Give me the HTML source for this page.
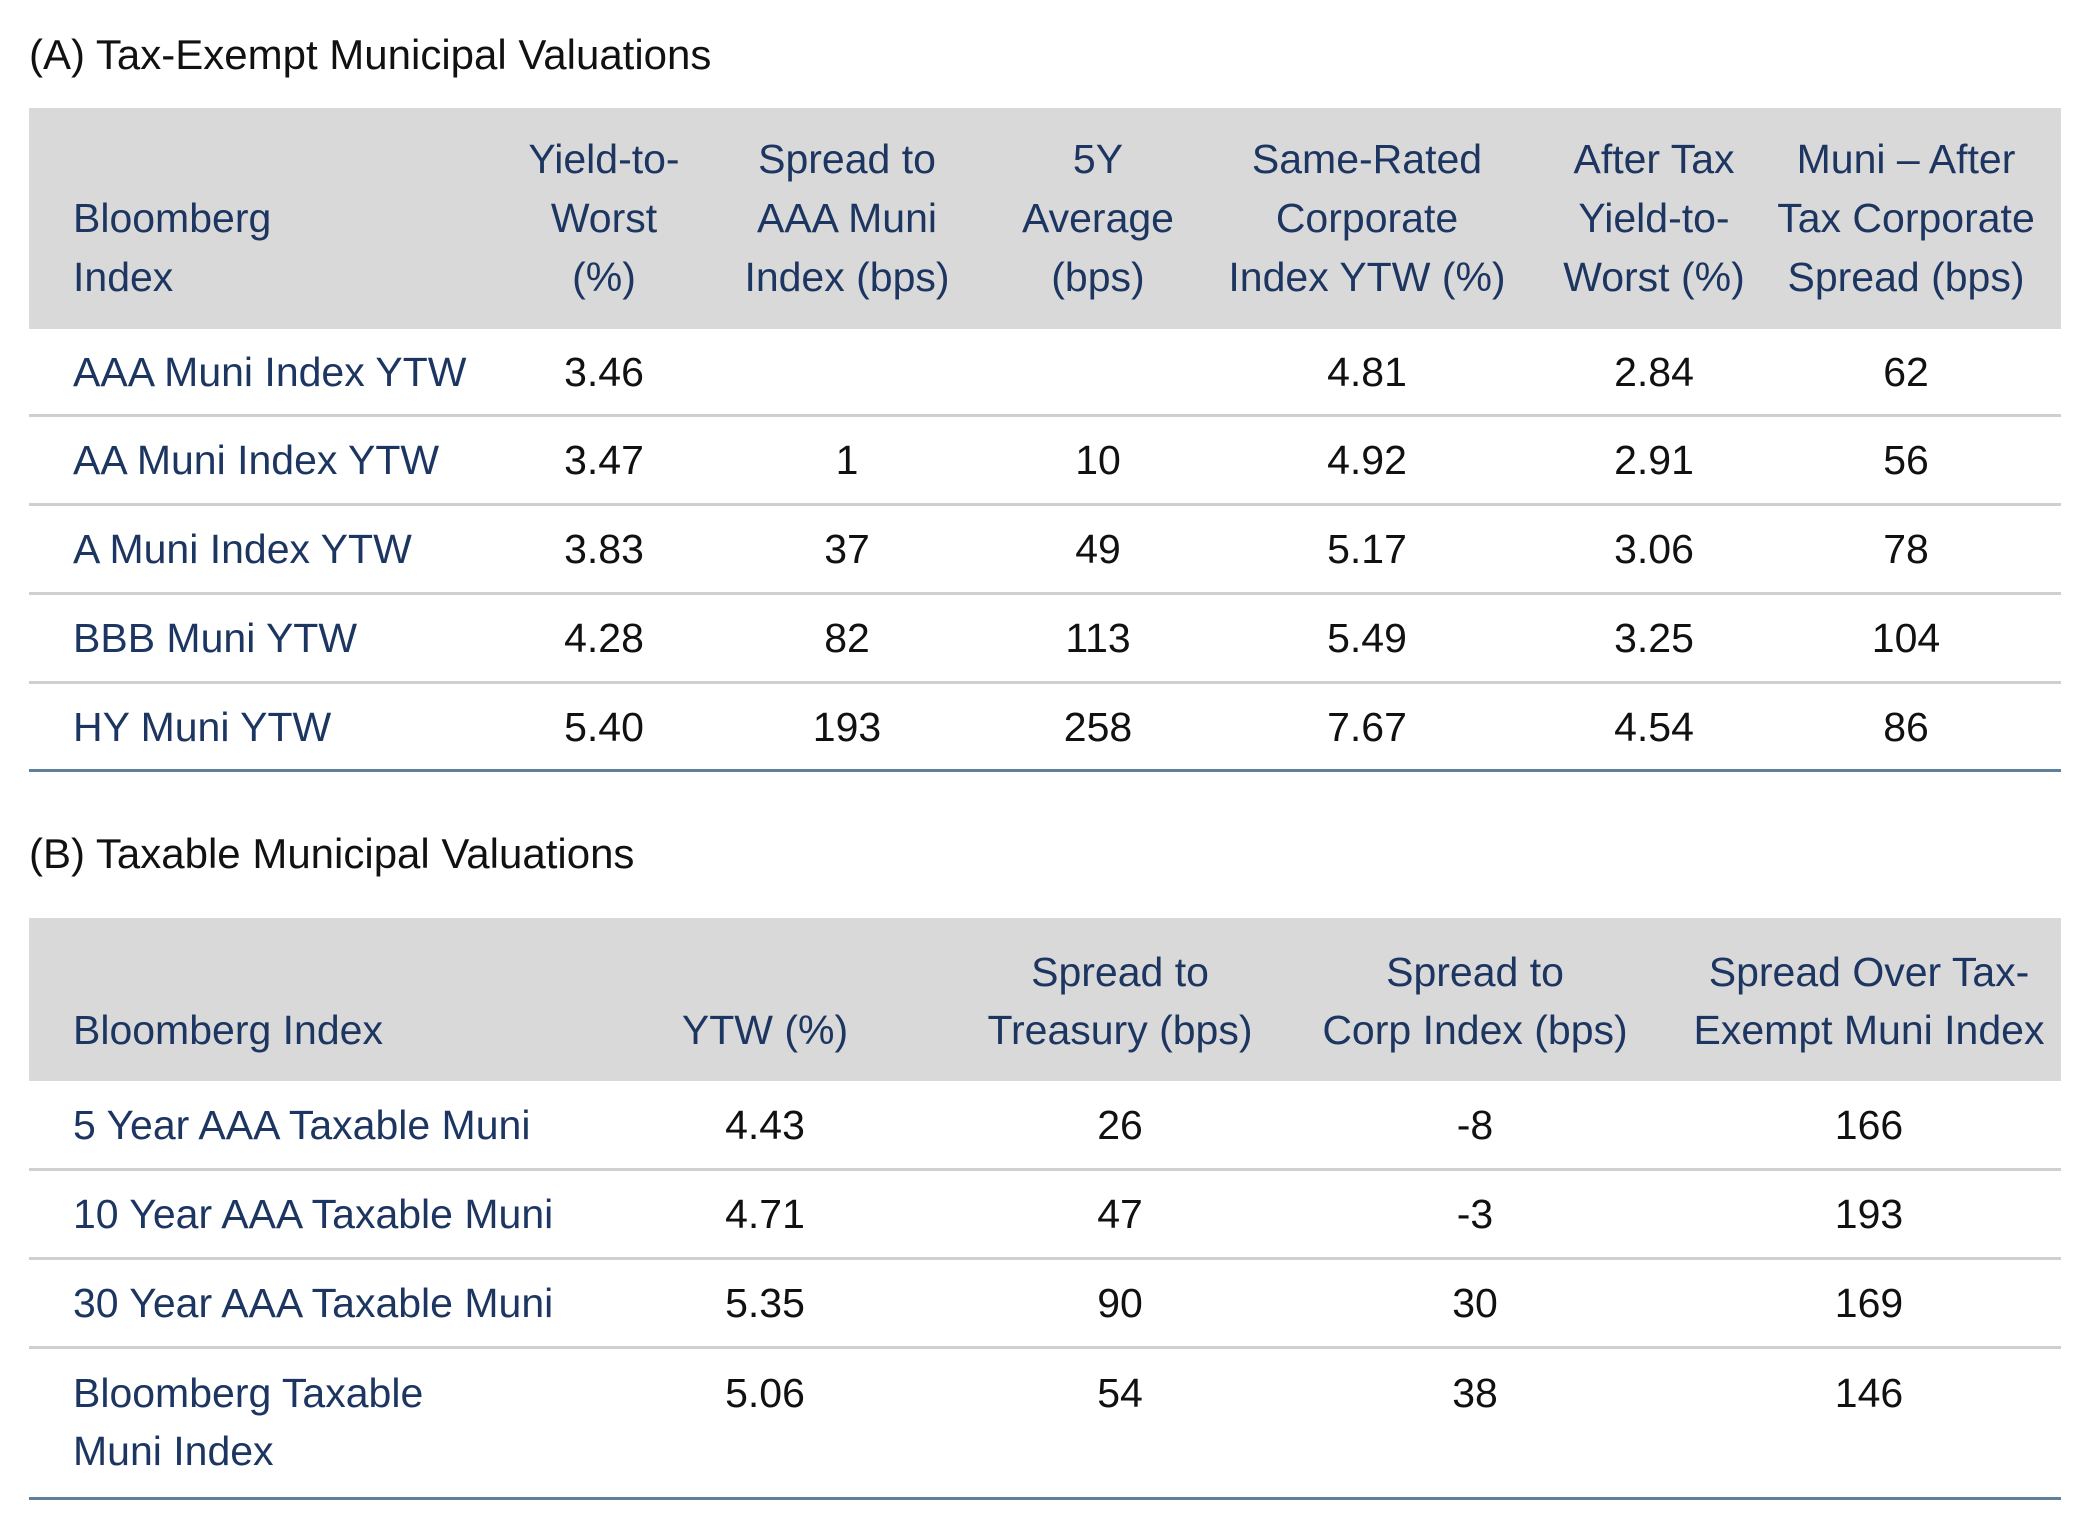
<!DOCTYPE html>
<html><head><meta charset="utf-8">
<style>
html,body{margin:0;padding:0;background:#fff;}
#root{position:relative;width:2084px;height:1524px;overflow:hidden;font-family:"Liberation Sans Narrow","Liberation Sans",sans-serif;}
.t{position:absolute;white-space:nowrap;font-size:41px;line-height:59px;}
.title{position:absolute;left:29px;font-size:42px;color:#111;white-space:nowrap;line-height:50px;}
.hdr{position:absolute;background:#d9d9d9;left:29px;width:2032px;}
.sep{position:absolute;left:29px;width:2032px;height:3px;background:#cfcfcf;}
.bot{position:absolute;left:29px;width:2032px;height:3px;background:#5e809b;}
.navy{color:#1d3661;}
.num{color:#111;}
</style></head>
<body>
<div id="root">
<div class="title" style="top:30px">(A) Tax-Exempt Municipal Valuations</div>
<div class="hdr" style="top:108px;height:221px"></div>
<div class="title" style="top:829px">(B) Taxable Municipal Valuations</div>
<div class="hdr" style="top:918px;height:163px"></div>
</div>
<script>
var root=document.getElementById('root');
function txt(s,x,y,cls,align,name){
  var d=document.createElement('div');
  d.className='t '+cls;
  d.textContent=s;
  
  
  d.style.top=(y-29)+'px';
  if(align==='c'){d.style.left=(x-300)+'px';d.style.width='600px';d.style.textAlign='center';}
  else{d.style.left=x+'px';}
  root.appendChild(d);
}
function line(y,cls,name){
  var d=document.createElement('div');
  d.className=cls;
  d.style.top=y+'px';
  
  
  root.appendChild(d);
}
// Table A
var aHeaders=[["Bloomberg","Index"],["Yield-to-","Worst","(%)"],["Spread to","AAA Muni","Index (bps)"],["5Y","Average","(bps)"],["Same-Rated","Corporate","Index YTW (%)"],["After Tax","Yield-to-","Worst (%)"],["Muni \u2013 After","Tax Corporate","Spread (bps)"]];
var aRows=["AAA Muni Index YTW","AA Muni Index YTW","A Muni Index YTW","BBB Muni YTW","HY Muni YTW"];
var aYTW=["3.46","3.47","3.83","4.28","5.40"];
var aSpread=["","1","37","82","193"];
var a5Y=["","10","49","113","258"];
var aCorp=["4.81","4.92","5.17","5.49","7.67"];
var aAfter=["2.84","2.91","3.06","3.25","4.54"];
var aMuni=["62","56","78","104","86"];
var aX=[73,604,847,1098,1367,1654,1906];
var aRowTop=[329,415,504,593,682,771];
aHeaders.forEach(function(h,i){
  var n=h.length;
  h.forEach(function(s,k){
    var y=277-(n-1-k)*59;
    txt(s,aX[i],y,'navy',i===0?'l':'c','table-a-header-'+i+'-line-'+k);
  });
});
var aCols=[aYTW,aSpread,a5Y,aCorp,aAfter,aMuni];
aRows.forEach(function(r,i){
  var y=(aRowTop[i]+aRowTop[i+1])/2;
  txt(r,73,y,'navy','l','table-a-row-label-'+i);
  aCols.forEach(function(c,j){ if(c[i]!=='') txt(c[i],aX[j+1],y,'num','c','table-a-cell-'+i+'-'+j); });
  if(i<aRows.length-1) line(aRowTop[i+1]-1,'sep','table-a-row-separator-'+i);
});
line(769,'bot','table-a-bottom-rule');
// Table B
var bHeaders=[["Bloomberg Index"],["YTW (%)"],["Spread to","Treasury (bps)"],["Spread to","Corp Index (bps)"],["Spread Over Tax-","Exempt Muni Index"]];
var bRows=[["5 Year AAA Taxable Muni"],["10 Year AAA Taxable Muni"],["30 Year AAA Taxable Muni"],["Bloomberg Taxable","Muni Index"]];
var bYTW=["4.43","4.71","5.35","5.06"];
var bTsy=["26","47","90","54"];
var bCorp=["-8","-3","30","38"];
var bOver=["166","193","169","146"];
var bX=[73,765,1120,1475,1869];
var bRowTop=[1081,1169,1258,1347,1499];
bHeaders.forEach(function(h,i){
  var n=h.length;
  h.forEach(function(s,k){
    var y=1030-(n-1-k)*58;
    txt(s,bX[i],y,'navy',i===0?'l':'c','table-b-header-'+i+'-line-'+k);
  });
});
var bCols=[bYTW,bTsy,bCorp,bOver];
bRows.forEach(function(r,i){
  var y=(bRowTop[i]+bRowTop[i+1])/2;
  if(r.length>1) y=1393;
  r.forEach(function(s,k){ txt(s,73,y+k*58,'navy','l','table-b-row-label-'+i+'-'+k); });
  var vy=(r.length>1)?1393:y;
  bCols.forEach(function(c,j){ txt(c[i],bX[j+1],vy,'num','c','table-b-cell-'+i+'-'+j); });
  if(i<bRows.length-1) line(bRowTop[i+1]-1,'sep','table-b-row-separator-'+i);
});
line(1497,'bot','table-b-bottom-rule');
</script>
</body></html>
